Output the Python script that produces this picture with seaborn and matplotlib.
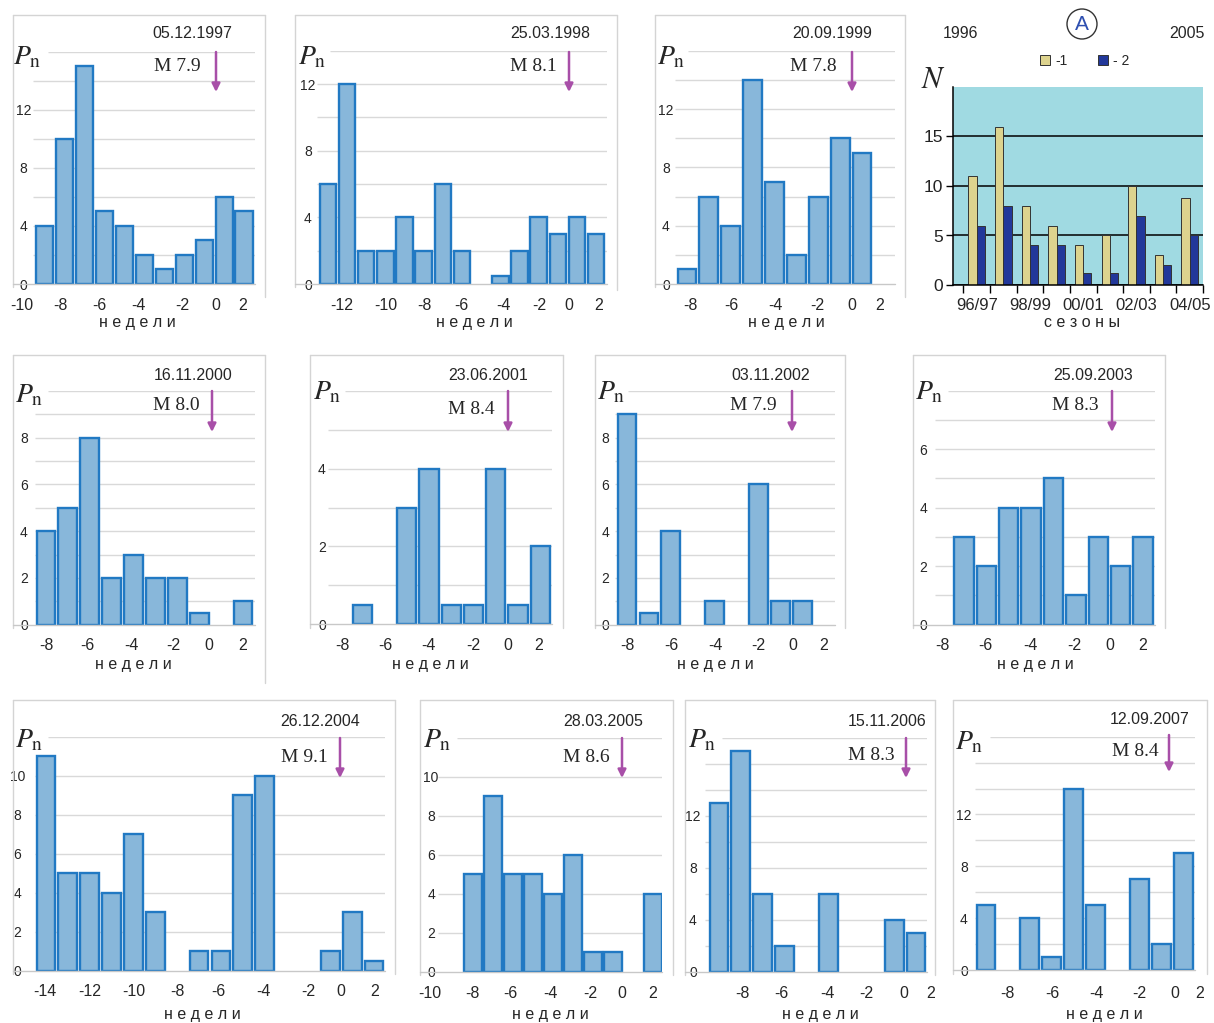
import matplotlib
matplotlib.use("Agg")
import matplotlib.pyplot as plt
import numpy as np
import pandas as pd
import seaborn as sns
from matplotlib.lines import Line2D
from matplotlib.patches import FancyArrowPatch, Ellipse

sns.set_theme(style="white")
plt.rcParams["font.family"] = ["Liberation Sans", "DejaVu Sans"]
plt.rcParams["mathtext.fontset"] = "stix"

# ---------------- data ----------------
weeks_1997 = [-9, -8, -7, -6, -5, -4, -3, -2, -1, 0, 1]
pn_1997 = [4, 10, 15, 5, 4, 2, 1, 2, 3, 6, 5]
weeks_1998 = [-13, -12, -11, -10, -9, -8, -7, -6, -4, -3, -2, -1, 0, 1]
pn_1998 = [6, 12, 2, 2, 4, 2, 6, 2, 0.5, 2, 4, 3, 4, 3]
weeks_1999 = [-8, -7, -6, -5, -4, -3, -2, -1, 0]
pn_1999 = [1, 6, 4, 14, 7, 2, 6, 10, 9]
weeks_2000 = [-8, -7, -6, -5, -4, -3, -2, -1, 1]
pn_2000 = [4, 5, 8, 2, 3, 2, 2, 0.5, 1]
weeks_2001 = [-7, -5, -4, -3, -2, -1, 0, 1]
pn_2001 = [0.5, 3, 4, 0.5, 0.5, 4, 0.5, 2]
weeks_2002 = [-8, -7, -6, -4, -2, -1, 0]
pn_2002 = [9, 0.5, 4, 1, 6, 1, 1]
weeks_2003 = [-7, -6, -5, -4, -3, -2, -1, 0, 1]
pn_2003 = [3, 2, 4, 4, 5, 1, 3, 2, 3]
weeks_2004 = [-14, -13, -12, -11, -10, -9, -7, -6, -5, -4, -1, 0, 1]
pn_2004 = [11, 5, 5, 4, 7, 3, 1, 1, 9, 10, 1, 3, 0.5]
weeks_2005 = [-8, -7, -6, -5, -4, -3, -2, -1, 1]
pn_2005 = [5, 9, 5, 5, 4, 6, 1, 1, 4]
weeks_2006 = [-9, -8, -7, -6, -4, -1, 0]
pn_2006 = [13, 17, 6, 2, 6, 4, 3]
weeks_2007 = [-9, -7, -6, -5, -4, -2, -1, 0]
pn_2007 = [5, 4, 1, 14, 5, 7, 2, 9]

xt_1997 = ["-10", "-8", "-6", "-4", "-2", "0", "2"]
xt_1998 = ["-12", "-10", "-8", "-6", "-4", "-2", "0", "2"]
xt_short = ["-8", "-6", "-4", "-2", "0", "2"]
xt_2004 = ["-14", "-12", "-10", "-8", "-6", "-4", "-2", "0", "2"]
xt_2005 = ["-10", "-8", "-6", "-4", "-2", "0", "2"]

dates = ["05.12.1997", "25.03.1998", "20.09.1999", "16.11.2000", "23.06.2001",
         "03.11.2002", "25.09.2003", "26.12.2004", "28.03.2005", "15.11.2006",
         "12.09.2007"]
mags = ["M 7.9", "M 8.1", "M 7.8", "M 8.0", "M 8.4", "M 7.9", "M 8.3",
        "M 9.1", "M 8.6", "M 8.3", "M 8.4"]

seasons = ["96/97", "97/98", "98/99", "99/00", "00/01", "01/02", "02/03", "03/04", "04/05"]
n_series1 = [11, 16, 8, 6, 4, 5, 10, 3, 8.8]
n_series2 = [6, 8, 4, 4, 1.2, 1.2, 7, 2, 5]
series_names = ["-1", "- 2"]

# ---------------- style ----------------
W, H = 1214, 1023
BAR_FILL = "#88B7DA"
BAR_EDGE = "#2179C3"
GRID = "#D9D9D9"
FRAME = "#D4D4D4"
ARROW = "#A84FA8"
YEL = "#DDD38E"
NAVY = "#22389A"
CYAN = "#A0DAE2"

fig = plt.figure(figsize=(W / 100, H / 100), dpi=100)
fig.patch.set_facecolor("white")


def fx(px):
    return px / W


def fy(py):
    return 1 - py / H


def make_axes(L, R, top, base):
    return fig.add_axes([fx(L), fy(base), (R - L) / W, (base - top) / H])


def fline(x0, y0, x1, y1, color=FRAME, lw=1.0):
    fig.add_artist(Line2D([fx(x0), fx(x1)], [fy(y0), fy(y1)], color=color, lw=lw,
                          transform=fig.transFigure))


# layout per panel (pixel geometry)
panels = [
    dict(weeks=weeks_1997, vals=pn_1997, xt=xt_1997, d=0, area=(33, 255, 51.7, 284), ymax=16, step=2,
         yt=[0, 4, 8, 12], ycx=23.5, xlim=(-9.59, 1.55),
         tpos=[-10.14, -8.23, -6.28, -4.32, -2.11, -0.40, 0.94], xty=305,
         date=(192, 33.5), mag=(177, 67), arrow=(216, 52, 92), pn=(13, 57), xl=(137, 323),
         gstart=48, frame=(13, 15, 265, 287, 297)),
    dict(weeks=weeks_1998, vals=pn_1998, xt=xt_1998, d=1, area=(317, 607, 50.7, 284), ymax=14, step=2,
         yt=[0, 4, 8, 12], ycx=308, xlim=(-13.57, 1.57),
         tpos=[-12.27, -9.97, -7.98, -6.05, -3.85, -1.97, -0.40, 1.11], xty=305,
         date=(550, 33.5), mag=(533, 67), arrow=(569, 52, 92), pn=(298, 57), xl=(474, 323),
         gstart=330, frame=(295, 15, 617, 287, 290)),
    dict(weeks=weeks_1999, vals=pn_1999, xt=xt_short, d=2, area=(675, 895, 50.7, 284), ymax=16, step=2,
         yt=[0, 4, 8, 12], ycx=666, xlim=(-8.55, 1.51),
         tpos=[-7.86, -5.95, -3.98, -2.02, -0.47, 0.81], xty=305,
         date=(832, 33.5), mag=(813, 67), arrow=(852, 52, 92), pn=(657, 57), xl=(786, 323),
         gstart=688, frame=(655, 15, 905, 287, 297)),
    dict(weeks=weeks_2000, vals=pn_2000, xt=xt_short, d=3, area=(35, 255, 391, 624.7), ymax=10, step=1,
         yt=[0, 2, 4, 6, 8], ycx=24, xlim=(-8.5, 1.55),
         tpos=[-8.0, -6.13, -4.08, -2.16, -0.56, 1.0], xty=645,
         date=(193, 375), mag=(176, 405), arrow=(212, 391, 432), pn=(15, 395), xl=(133, 665),
         gstart=48, frame=(13, 355, 265, 628, 683)),
    dict(weeks=weeks_2001, vals=pn_2001, xt=xt_short, d=4, area=(328, 552, 390.7, 624.3), ymax=6, step=1,
         yt=[0, 2, 4], ycx=322, xlim=(-8.54, 1.53),
         tpos=[-7.91, -5.98, -4.04, -2.02, -0.47, 0.94], xty=645,
         date=(488, 375), mag=(471, 410), arrow=(508, 391, 432), pn=(313, 392), xl=(430, 665),
         gstart=345, frame=(310, 355, 563, 628, 628)),
    dict(weeks=weeks_2002, vals=pn_2002, xt=xt_short, d=5, area=(615, 835, 391, 624.7), ymax=10, step=1,
         yt=[0, 2, 4, 6, 8], ycx=605, xlim=(-8.55, 1.5),
         tpos=[-8.0, -5.99, -3.95, -1.99, -0.44, 0.97], xty=645,
         date=(771, 375), mag=(753, 405), arrow=(792, 391, 432), pn=(597, 392), xl=(715, 665),
         gstart=628, frame=(595, 355, 845, 628, 628)),
    dict(weeks=weeks_2003, vals=pn_2003, xt=xt_short, d=6, area=(935, 1155, 390.7, 624.7), ymax=8, step=1,
         yt=[0, 2, 4, 6], ycx=923, xlim=(-8.29, 1.53),
         tpos=[-7.94, -6.04, -4.03, -2.07, -0.48, 0.98], xty=645,
         date=(1093, 375), mag=(1075, 405), arrow=(1112, 391, 432), pn=(915, 392), xl=(1035, 665),
         gstart=948, frame=(913, 355, 1165, 628, 628)),
    dict(weeks=weeks_2004, vals=pn_2004, xt=xt_2004, d=7, area=(35, 385, 736.7, 971), ymax=12, step=2,
         yt=[0, 2, 4, 6, 8, 10], ycx=17.5, xlim=(-14.5, 1.5),
         tpos=[-14.05, -11.99, -10.0, -7.99, -6.12, -4.06, -2.0, -0.51, 1.04], xty=992,
         date=(320, 722), mag=(304, 758), arrow=(340, 738, 778), pn=(15, 740), xl=(202, 1015),
         gstart=48, frame=(13, 700, 395, 974, 974)),
    dict(weeks=weeks_2005, vals=pn_2005, xt=xt_2005, d=8, area=(438, 662, 737.7, 971.7), ymax=12, step=2,
         yt=[0, 2, 4, 6, 8, 10], ycx=431, xlim=(-9.75, 1.45),
         tpos=[-10.15, -8.05, -6.15, -4.15, -2.15, -0.55, 1.0], xty=993,
         date=(603, 722), mag=(586, 758), arrow=(622, 738, 778), pn=(423, 740), xl=(550, 1015),
         gstart=457, frame=(420, 700, 673, 975, 975)),
    dict(weeks=weeks_2006, vals=pn_2006, xt=xt_short, d=9, area=(705, 927, 737.7, 971.7), ymax=18, step=2,
         yt=[0, 4, 8, 12], ycx=693, xlim=(-9.64, 0.5),
         tpos=[-7.95, -6.17, -4.03, -2.26, -0.57, 0.66], xty=993,
         date=(887, 722), mag=(871, 755), arrow=(906, 738, 778), pn=(688, 740), xl=(820, 1015),
         gstart=722, frame=(685, 700, 935, 975, 975)),
    dict(weeks=weeks_2007, vals=pn_2007, xt=xt_short, d=10, area=(975, 1195, 736.7, 970), ymax=18, step=2,
         yt=[0, 4, 8, 12], ycx=964, xlim=(-9.5, 0.54),
         tpos=[-8.0, -5.95, -3.94, -2.0, -0.37, 0.73], xty=993,
         date=(1150, 720), mag=(1135, 752), arrow=(1169, 735, 772), pn=(955, 742), xl=(1104, 1015),
         gstart=990, frame=(953, 700, 1207, 974, 974)),
]


def hist_panel(p):
    L, R, top, base = p["area"]
    ax = make_axes(L, R, top, base)
    df = pd.DataFrame({"week": p["weeks"], "pn": p["vals"]})
    x0, x1 = p["xlim"]

    def px2x(px):
        return x0 + (px - L) / (R - L) * (x1 - x0)

    # grid
    levels = np.arange(p["step"], p["ymax"] + 0.01, p["step"])
    for lv in levels:
        xs = px2x(p["gstart"]) if lv == levels[-1] else x0
        ax.hlines(lv, xs, x1, color=GRID, lw=1.0, zorder=0)
    sns.barplot(data=df, x="week", y="pn", native_scale=True, width=0.86,
                color=BAR_FILL, edgecolor=BAR_EDGE, linewidth=1.7, saturation=1,
                errorbar=None, ax=ax, zorder=3)
    ax.set_xlim(x0, x1)
    ax.set_ylim(0, p["ymax"])
    ax.set_xlabel("")
    ax.set_ylabel("")
    ax.set_xticks([])
    for s in ax.spines.values():
        s.set_visible(False)
    ax.set_facecolor("none")
    ax.set_yticks(p["yt"], [str(v) for v in p["yt"]], fontsize=10)
    ax.tick_params(axis="y", length=0, pad=(L - p["ycx"]) * 0.72)
    for t in ax.get_yticklabels():
        t.set_ha("center")
    yax = (base - p["xty"]) / (base - top)
    for pos, lab in zip(p["tpos"], p["xt"]):
        ax.text(pos, yax, lab, transform=ax.get_xaxis_transform(), ha="center",
                va="center", fontsize=11.5, clip_on=False)
    # frame and baseline
    fl, ft, fr, fbl, fbr = p["frame"]
    fline(fl, ft, fr, ft)
    fline(fl, ft, fl, fbl)
    fline(fr, ft, fr, fbr)
    fline(fl, base, R, base, color="#C8C8C8")
    # texts
    fig.text(fx(p["date"][0]), fy(p["date"][1]), dates[p["d"]], ha="center", va="center",
             fontsize=11.5)
    fig.text(fx(p["mag"][0]), fy(p["mag"][1]), mags[p["d"]], ha="center", va="center",
             fontsize=14, family="Liberation Serif")
    fig.text(fx(p["pn"][0]), fy(p["pn"][1]), r"$P_{\mathrm{n}}$", ha="left", va="center",
             fontsize=20)
    fig.text(fx(p["xl"][0]), fy(p["xl"][1]), "н е д е л и", ha="center", va="center",
             fontsize=11.5)
    ax_x, ay0, ay1 = p["arrow"]
    fig.add_artist(FancyArrowPatch((fx(ax_x), fy(ay0)), (fx(ax_x), fy(ay1)),
                                   transform=fig.transFigure, arrowstyle="-|>",
                                   mutation_scale=12, color=ARROW, lw=1.8,
                                   shrinkA=0, shrinkB=0))


for p in panels:
    hist_panel(p)

# ---------------- panel A (seasons) ----------------
ax4 = make_axes(953, 1203, 87, 285)
df4 = pd.DataFrame({
    "season": seasons * 2,
    "N": n_series1 + n_series2,
    "series": [series_names[0]] * len(seasons) + [series_names[1]] * len(seasons),
})
ax4.set_facecolor(CYAN)
ax4.set_axisbelow(True)
sns.barplot(data=df4, x="season", y="N", hue="series", order=seasons, hue_order=series_names,
            palette={series_names[0]: YEL, series_names[1]: NAVY}, width=0.62, gap=0,
            saturation=1, edgecolor="#333333", linewidth=0.7, errorbar=None, ax=ax4)
ax4.set_xlim(-0.89, 8.5)
ax4.set_ylim(0, 20)
ax4.set_xlabel("")
ax4.set_ylabel("")
ax4.set_yticks([0, 5, 10, 15])
ax4.yaxis.grid(True, color="black", lw=1.1)
ax4.xaxis.grid(False)
ax4.set_xticks(range(0, 9, 2), [seasons[i] for i in range(0, 9, 2)], fontsize=12)
ax4.set_xticks(np.arange(-0.5, 9, 1), minor=True)
ax4.tick_params(axis="x", which="major", length=0, pad=9)
ax4.tick_params(axis="x", which="minor", length=6, width=1, color="black", direction="out",
                bottom=True)
ax4.tick_params(axis="y", length=5, width=1, color="black", direction="out", left=True,
                labelsize=12.5, pad=2)
for s in ["top", "right"]:
    ax4.spines[s].set_visible(False)
for s in ["left", "bottom"]:
    ax4.spines[s].set_color("black")
    ax4.spines[s].set_linewidth(1.1)
for t in ax4.get_yticklabels():
    t.set_color("#222222")
sns.move_legend(ax4, "center", bbox_to_anchor=((1085 - 953) / 250, (285 - 61) / 198), ncol=2,
                frameon=False, title=None, fontsize=10, handlelength=0.7, handleheight=0.7,
                handletextpad=0.4, columnspacing=2.2)

fig.text(fx(933), fy(80), r"$N$", ha="center", va="center", fontsize=22)
fig.text(fx(960), fy(33), "1996", ha="center", va="center", fontsize=11.5)
fig.text(fx(1187), fy(33), "2005", ha="center", va="center", fontsize=11.5)
fig.add_artist(Ellipse((fx(1082), fy(24)), 30 / W, 30 / H, transform=fig.transFigure,
                       facecolor="white", edgecolor="#333333", lw=1))
fig.text(fx(1082), fy(24), "A", ha="center", va="center", fontsize=15, color="#2E4FB0")
fig.text(fx(1082), fy(323), "с е з о н ы", ha="center", va="center", fontsize=11.5)

fig.savefig("out.png", dpi=100, facecolor="white")
